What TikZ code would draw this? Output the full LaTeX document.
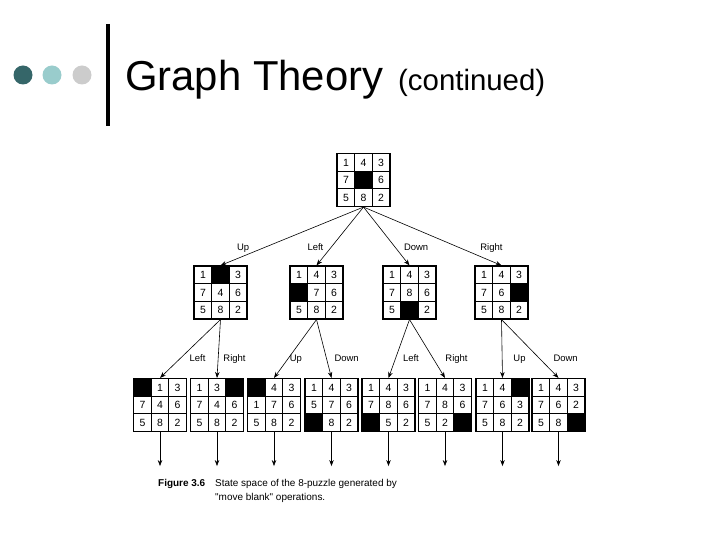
\documentclass[tikz,border=0pt]{standalone}
\usepackage{fontspec}
\setmainfont{Liberation Sans}
\usetikzlibrary{matrix, arrows.meta}

\definecolor{dotdark}{HTML}{356669}
\definecolor{dotlight}{HTML}{99CCCC}
\definecolor{dotgray}{HTML}{CCCCCC}

\tikzset{
    cell/.style={draw, line width=0.6bp, minimum size=17.5bp, inner sep=0pt, anchor=center,
        text height=7.5bp, text depth=0pt, font=\fontsize{10.5}{10.5}\selectfont},
    blank/.style={fill=black},
    board/.style={matrix of nodes, nodes={cell}, nodes in empty cells,
        column sep=-0.6bp, row sep=-0.6bp, draw, line width=1bp, inner sep=0pt},
    move/.style={-{Stealth[length=6bp, width=4.5bp]}, line width=0.6bp},
    lbl/.style={font=\fontsize{9.5}{9.5}\selectfont, inner sep=1bp, text height=7bp, text depth=2bp},
}

\begin{document}
\begin{tikzpicture}[x=1bp, y=-1bp]
    \useasboundingbox (0,0) rectangle (720,540);

    % title bar
    \fill[dotdark] (23,75) circle (9.5bp);
    \fill[dotlight] (52,75) circle (9.5bp);
    \fill[dotgray] (82,75) circle (9.5bp);
    \draw[line width=3.5bp] (108,24) -- (108,126);
    \node[anchor=base west, inner sep=0pt, font=\fontsize{42}{42}\selectfont] (title) at (125,91) {Graph Theory};
    \node[anchor=base west, inner sep=0pt, font=\fontsize{29.5}{29.5}\selectfont] (subtitle) at (398,91) {(continued)};

    % root
    \matrix (s0) [board] at (363.5,180) {
        1 & 4 & 3 \\
        7 & |[blank]| & 6 \\
        5 & 8 & 2 \\
    };

    % first moves
    \matrix (u) [board] at (220.5,292.5) {
        1 & |[blank]| & 3 \\
        7 & 4 & 6 \\
        5 & 8 & 2 \\
    };
    \matrix (l) [board] at (316.5,292.5) {
        1 & 4 & 3 \\
        |[blank]| & 7 & 6 \\
        5 & 8 & 2 \\
    };
    \matrix (d) [board] at (409.5,292.5) {
        1 & 4 & 3 \\
        7 & 8 & 6 \\
        5 & |[blank]| & 2 \\
    };
    \matrix (r) [board] at (501.5,292.5) {
        1 & 4 & 3 \\
        7 & 6 & |[blank]| \\
        5 & 8 & 2 \\
    };

    % second moves
    \matrix (ul) [board] at (160,405) {
        |[blank]| & 1 & 3 \\
        7 & 4 & 6 \\
        5 & 8 & 2 \\
    };
    \matrix (ur) [board] at (217,405) {
        1 & 3 & |[blank]| \\
        7 & 4 & 6 \\
        5 & 8 & 2 \\
    };
    \matrix (lu) [board] at (274,405) {
        |[blank]| & 4 & 3 \\
        1 & 7 & 6 \\
        5 & 8 & 2 \\
    };
    \matrix (ld) [board] at (331.5,405) {
        1 & 4 & 3 \\
        5 & 7 & 6 \\
        |[blank]| & 8 & 2 \\
    };
    \matrix (dl) [board] at (388.5,405) {
        1 & 4 & 3 \\
        7 & 8 & 6 \\
        |[blank]| & 5 & 2 \\
    };
    \matrix (dr) [board] at (445,405) {
        1 & 4 & 3 \\
        7 & 8 & 6 \\
        5 & 2 & |[blank]| \\
    };
    \matrix (ru) [board] at (502.5,405) {
        1 & 4 & |[blank]| \\
        7 & 6 & 3 \\
        5 & 8 & 2 \\
    };
    \matrix (rd) [board] at (558.5,405) {
        1 & 4 & 3 \\
        7 & 6 & 2 \\
        5 & 8 & |[blank]| \\
    };

    % moves
    \draw[move] (s0.south) -- node[lbl, pos=0.7, left=13bp] {Up} (u.north);
    \draw[move] (s0.south) -- node[lbl, pos=0.7, left=6bp] {Left} (l.north);
    \draw[move] (s0.south) -- node[lbl, pos=0.7, right=7bp] {Down} (d.north);
    \draw[move] (s0.south) -- node[lbl, pos=0.7, right=19bp] {Right} (r.north);

    \draw[move] (u.south) -- node[lbl, pos=0.68, right=9bp] {Left} (ul.north);
    \draw[move] (u.south) -- node[lbl, pos=0.68, right=4bp] {Right} (ur.north);
    \draw[move] (l.south) -- node[lbl, pos=0.68, right=1bp] {Up} (lu.north);
    \draw[move] (l.south) -- node[lbl, pos=0.68, right=6.5bp] {Down} (ld.north);
    \draw[move] (d.south) -- node[lbl, pos=0.68, right=6.5bp] {Left} (dl.north);
    \draw[move] (d.south) -- node[lbl, pos=0.68, right=10.5bp] {Right} (dr.north);
    \draw[move] (r.south) -- node[lbl, pos=0.68, right=10bp] {Up} (ru.north);
    \draw[move] (r.south) -- node[lbl, pos=0.68, right=12bp] {Down} (rd.north);

    \foreach \n in {ul,ur,lu,ld,dl,dr,ru,rd}
        \draw[move] (\n.south) -- ++(0,34);

    % caption
    \node[anchor=base west, inner sep=0pt, font=\bfseries\fontsize{10}{10}\selectfont] (fig) at (158,486) {Figure 3.6};
    \node[anchor=base west, inner sep=0pt, font=\fontsize{10}{10}\selectfont] (cap1) at (215,486) {State space of the 8-puzzle generated by};
    \node[anchor=base west, inner sep=0pt, font=\fontsize{10}{10}\selectfont] (cap2) at (215,500) {\textquotedbl move blank\textquotedbl{} operations.};
\end{tikzpicture}
\end{document}
